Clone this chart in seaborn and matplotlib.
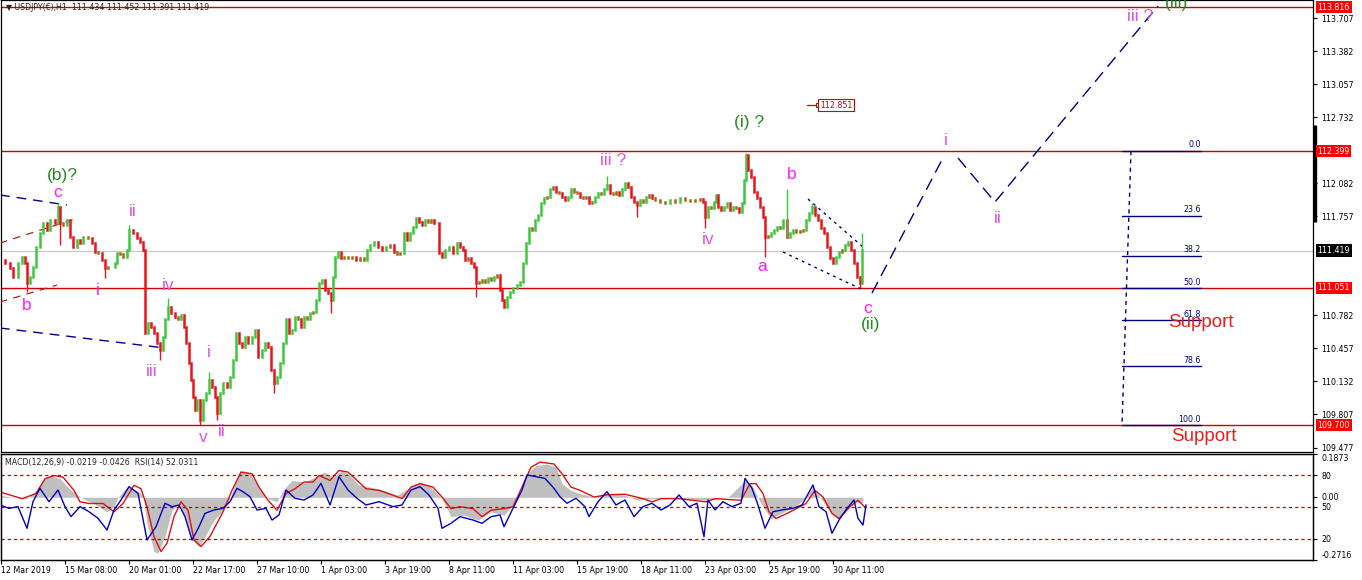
import matplotlib
matplotlib.use("Agg")
import matplotlib.pyplot as plt
import matplotlib.transforms as mtransforms
import seaborn as sns

# ---------------- data ----------------
# hourly bar index and closing prices (sampled every few bars)
bar_x = [0, 5, 10, 13, 18, 22, 25, 27, 30, 33,
         36, 40, 43, 47, 50, 55, 58, 60, 63, 67,
         70, 73, 77, 80, 83, 88, 92, 95, 98, 102,
         105, 108, 112, 115, 117, 120, 123, 127, 129, 133,
         137, 140, 143, 145, 148, 151, 154, 157, 160, 163,
         165, 168, 171, 175, 178, 181, 184, 186, 189, 191,
         193, 195, 197, 200, 203, 206, 209, 212, 215, 217,
         220, 223, 227, 230, 233, 236, 239, 242, 245, 248,
         252, 255, 258, 262, 265, 268, 271, 274, 277, 280,
         283, 286, 289, 292, 295, 298, 301, 304, 307, 310,
         313, 316, 319, 322, 325, 328, 331, 333, 335, 338,
         341, 344, 348, 352, 356, 360, 364, 367, 370, 374,
         378, 382, 386, 390, 394, 397, 400, 404, 407, 410,
         413, 416, 419, 422, 425, 428, 431, 434, 437, 439,
         442, 445, 449, 453, 457, 460, 463, 465, 468, 471,
         474, 476, 479, 482, 485, 488, 491, 494, 497, 500,
         502, 504, 507, 510, 513, 517, 520, 523, 526, 529,
         532, 535, 538, 541, 544, 547, 550, 553, 556, 559,
         562, 565, 568, 571, 574, 577, 580, 583, 586, 589,
         592, 595, 598, 601, 604, 607, 610, 613, 616, 619,
         622, 625, 628, 631, 634, 637, 640, 643, 646, 649,
         652, 655, 660, 665, 670, 675, 680, 685, 690, 695,
         700, 703, 705, 708, 711, 714, 716, 718, 721, 724,
         727, 730, 733, 736, 739, 742, 744, 746, 748, 751,
         754, 757, 760, 763, 765, 768, 771, 774, 777, 780,
         783, 787, 790, 793, 796, 800, 803, 806, 809, 812,
         815, 818, 821, 824, 827, 830, 833, 836, 839, 842,
         845, 848, 851, 854, 857, 860, 862]
close = [111.33, 111.30, 111.25, 111.16, 111.30, 111.36, 111.30, 111.10, 111.16, 111.26,
         111.45, 111.59, 111.69, 111.62, 111.72, 111.69, 111.85, 111.69, 111.67, 111.72,
         111.55, 111.45, 111.52, 111.49, 111.55, 111.54, 111.49, 111.40, 111.39, 111.33,
         111.25, 111.26, 111.26, 111.30, 111.39, 111.38, 111.36, 111.42, 111.62, 111.59,
         111.54, 111.50, 111.42, 110.61, 110.71, 110.67, 110.61, 110.51, 110.44, 110.57,
         110.74, 110.86, 110.80, 110.76, 110.74, 110.78, 110.67, 110.51, 110.31, 110.14,
         109.98, 109.85, 109.95, 109.75, 109.95, 110.02, 110.14, 110.08, 109.98, 109.82,
         110.02, 110.11, 110.08, 110.17, 110.34, 110.61, 110.51, 110.47, 110.57, 110.51,
         110.57, 110.64, 110.37, 110.44, 110.51, 110.47, 110.24, 110.11, 110.17, 110.31,
         110.51, 110.74, 110.61, 110.64, 110.76, 110.74, 110.67, 110.76, 110.74, 110.80,
         110.81, 110.93, 111.10, 111.13, 111.03, 111.00, 110.93, 111.16, 111.36, 111.40,
         111.35, 111.36, 111.35, 111.36, 111.33, 111.35, 111.33, 111.42, 111.47, 111.50,
         111.45, 111.42, 111.45, 111.47, 111.40, 111.38, 111.39, 111.59, 111.52, 111.59,
         111.65, 111.74, 111.70, 111.67, 111.72, 111.70, 111.72, 111.69, 111.69, 111.39,
         111.36, 111.42, 111.45, 111.39, 111.49, 111.45, 111.42, 111.33, 111.35, 111.30,
         111.26, 111.10, 111.11, 111.13, 111.11, 111.15, 111.13, 111.16, 111.18, 111.03,
         110.93, 110.86, 110.96, 111.01, 111.05, 111.08, 111.11, 111.30, 111.49, 111.64,
         111.62, 111.72, 111.77, 111.89, 111.94, 111.95, 112.02, 112.04, 112.00, 111.99,
         111.95, 111.92, 111.95, 112.02, 112.00, 111.99, 111.95, 111.94, 111.95, 111.89,
         111.90, 111.95, 111.99, 111.98, 112.02, 112.06, 111.99, 111.98, 112.00, 111.97,
         112.02, 112.08, 112.04, 111.95, 111.90, 111.87, 111.92, 111.90, 111.95, 111.97,
         111.94, 111.92, 111.90, 111.89, 111.92, 111.90, 111.94, 111.92, 111.91, 111.92,
         111.93, 111.90, 111.75, 111.85, 111.84, 111.90, 111.97, 111.85, 111.82, 111.85,
         111.89, 111.82, 111.85, 111.84, 111.80, 111.89, 112.11, 112.36, 112.21, 112.14,
         112.00, 111.94, 111.85, 111.75, 111.55, 111.56, 111.59, 111.62, 111.65, 111.64,
         111.72, 111.55, 111.59, 111.62, 111.60, 111.61, 111.62, 111.72, 111.79, 111.85,
         111.77, 111.72, 111.64, 111.59, 111.45, 111.35, 111.30, 111.36, 111.40, 111.42,
         111.47, 111.50, 111.42, 111.30, 111.16, 111.10, 111.42]
# visible spikes (extreme high / low of a bar)
wick_x = [27, 58, 60, 105, 129, 160, 168, 200, 209, 217, 274, 331,
          476, 607, 637, 705, 746, 765, 787, 812, 860, 862]
wick_p = [111.01, 111.89, 111.47, 111.15, 111.67, 110.34, 110.95, 109.70, 110.22, 109.75, 110.02, 110.80,
          110.96, 112.15, 111.75, 111.64, 112.38, 111.36, 112.02, 111.89, 111.05, 111.59]

# MACD(12,26,9) histogram and signal, RSI(14)
macd_x = [0, 13, 27, 36, 45, 51, 60, 71, 83, 94, 107, 114, 118, 127, 134, 143, 147, 154, 158, 165,
          172, 179, 185, 192, 199, 205, 214, 223, 230, 237, 243, 250, 259, 268, 277, 283, 292, 304, 315, 324,
          333, 342, 350, 359, 371, 384, 397, 411, 420, 431, 442, 451, 464, 478, 491, 504, 513, 520, 527, 536,
          547, 556, 562, 571, 580, 594, 607, 625, 638, 652, 670, 706, 728, 745, 752, 760, 771, 784, 797, 806,
          813, 821, 830, 837, 845, 854, 863]
macd_hist = [0.009, 0.0, -0.006, 0.030, 0.087, 0.094, 0.080, 0.030, -0.006, -0.027,
             -0.063, -0.041, 0.0, 0.044, 0.037, 0.009, -0.113, -0.235, -0.242, -0.170,
             -0.056, -0.027, -0.084, -0.185, -0.213, -0.170, -0.099, -0.056, -0.006, 0.087,
             0.116, 0.102, 0.044, -0.006, -0.020, 0.030, 0.073, 0.066, 0.087, 0.109,
             0.087, 0.116, 0.094, 0.052, 0.044, 0.030, 0.009, 0.044, 0.066, 0.044,
             -0.006, -0.084, -0.077, -0.099, -0.063, -0.077, -0.034, 0.016, 0.102, 0.137,
             0.144, 0.130, 0.059, 0.030, 0.016, 0.001, 0.016, 0.009, -0.013, -0.006,
             -0.002, -0.013, 0.0, 0.073, 0.052, -0.020, -0.092, -0.063, -0.034, 0.0,
             0.044, -0.006, -0.063, -0.092, -0.063, -0.020, -0.022]
sig_x = [0, 22, 36, 45, 54, 63, 74, 80, 89, 103, 114, 123, 134, 141, 147, 154, 161, 167, 174, 181,
         188, 194, 201, 210, 223, 232, 241, 252, 259, 268, 277, 286, 295, 304, 313, 319, 330, 339, 348, 357,
         366, 379, 393, 402, 411, 420, 433, 442, 451, 460, 473, 482, 491, 504, 513, 522, 531, 540, 554, 562,
         571, 580, 594, 607, 625, 643, 652, 661, 679, 706, 715, 741, 750, 756, 763, 769, 776, 787, 800, 806,
         815, 823, 832, 839, 850, 858, 865]
macd_signal = [0.023, -0.006, 0.016, 0.080, 0.094, 0.087, 0.030, -0.020, -0.027, -0.027,
               -0.063, -0.027, 0.052, 0.037, -0.041, -0.170, -0.235, -0.199, -0.084, -0.020,
               -0.056, -0.185, -0.213, -0.170, -0.063, 0.030, 0.109, 0.102, 0.044, -0.013,
               -0.056, 0.016, 0.037, 0.066, 0.066, 0.094, 0.073, 0.116, 0.109, 0.073,
               0.037, 0.030, 0.009, -0.006, 0.044, 0.059, 0.044, 0.001, -0.049, -0.041,
               -0.049, -0.084, -0.056, -0.049, -0.041, 0.044, 0.130, 0.152, 0.144, 0.102,
               0.044, 0.030, 0.001, 0.011, 0.013, -0.006, -0.020, -0.006, -0.006, -0.020,
               -0.006, -0.013, 0.059, 0.059, 0.016, -0.063, -0.092, -0.070, -0.041, -0.027,
               0.030, 0.001, -0.070, -0.092, -0.041, -0.013, -0.043]
rsi_x = [0, 9, 18, 27, 33, 40, 49, 58, 65, 71, 80, 89, 98, 107, 114, 121, 129, 138, 147, 156,
         165, 172, 179, 185, 192, 199, 205, 214, 223, 230, 237, 243, 250, 257, 266, 272, 279, 286, 295, 304,
         313, 321, 330, 339, 348, 357, 366, 379, 393, 402, 411, 420, 429, 438, 442, 451, 460, 473, 482, 491,
         500, 504, 513, 522, 527, 536, 545, 554, 560, 567, 576, 585, 589, 598, 607, 616, 625, 634, 643, 652,
         661, 670, 679, 689, 697, 704, 708, 715, 723, 732, 741, 745, 752, 758, 765, 773, 782, 793, 802, 813,
         819, 826, 832, 839, 847, 854, 858, 863, 866]
rsi = [51.9, 48.7, 50.3, 29.9, 55.0, 67.6, 55.0, 66.0, 50.3, 40.9,
       50.3, 45.6, 39.3, 28.3, 47.2, 56.6, 69.2, 62.9, 18.9, 31.4,
       53.5, 50.3, 51.9, 40.9, 18.9, 31.4, 44.0, 47.2, 48.7, 55.0,
       67.6, 64.4, 59.7, 47.2, 48.7, 37.7, 42.5, 66.0, 58.2, 56.6,
       61.3, 72.3, 51.9, 78.6, 66.0, 58.2, 51.9, 55.0, 50.3, 51.9,
       66.0, 69.2, 61.3, 48.7, 29.9, 34.6, 40.9, 37.7, 34.6, 40.9,
       42.5, 31.4, 48.7, 66.0, 80.2, 78.6, 77.0, 67.6, 59.7, 53.5,
       58.2, 50.3, 40.9, 55.0, 64.4, 51.9, 56.6, 40.9, 50.3, 53.5,
       47.2, 51.9, 61.3, 50.3, 53.5, 22.0, 56.6, 47.2, 55.0, 50.3,
       53.5, 77.0, 67.6, 51.9, 29.9, 45.6, 47.2, 48.7, 51.9, 70.8,
       50.3, 45.6, 25.2, 37.7, 48.7, 56.6, 39.3, 33.0, 52.0]

time_ticks = [1, 65, 129, 193, 257, 321, 385, 449, 513, 577, 641, 705, 769, 833]
time_labels = ['12 Mar 2019', '15 Mar 08:00', '20 Mar 01:00', '22 Mar 17:00', '27 Mar 10:00',
               '1 Apr 03:00', '3 Apr 19:00', '8 Apr 11:00', '11 Apr 03:00', '15 Apr 19:00',
               '18 Apr 11:00', '23 Apr 03:00', '25 Apr 19:00', '30 Apr 11:00']
price_ticks = [113.707, 113.382, 113.057, 112.732, 112.082, 111.757,
               110.782, 110.457, 110.132, 109.807, 109.477]
key_levels = [113.816, 112.399, 111.051, 109.700]
last_price = 111.419
target_price = 112.851

# Elliott wave labels: text, bar, price, kind
waves = [('(b)?', 62, 112.153, 'major'), ('c', 58, 111.995, 'minor'), ('b', 27, 110.873, 'minor'),
         ('i', 98, 111.030, 'minor'), ('ii', 133, 111.808, 'roman'), ('iv', 168, 111.070, 'roman'),
         ('iii', 152, 110.223, 'roman'), ('v', 203, 109.573, 'roman'), ('i', 209, 110.410, 'roman'),
         ('ii', 222, 109.632, 'roman'), ('iii ?', 613, 112.301, 'roman'), ('(i) ?', 749, 112.675, 'major'),
         ('iv', 708, 111.532, 'roman'), ('a', 762, 111.257, 'minor'), ('b', 792, 112.163, 'minor'),
         ('c', 868, 110.853, 'minor'), ('(ii)', 871, 110.686, 'major'), ('i', 946, 112.507, 'roman'),
         ('ii', 998, 111.739, 'roman'), ('iii ?', 1140, 113.728, 'roman'), ('(iii)', 1176, 113.847, 'major')]

# trend lines drawn on the chart: (x0, p0, x1, p1)
blue_channel = [(0, 111.966, 67, 111.867), (0, 110.656, 165, 110.459)]
red_channel = [(0, 111.493, 75, 111.729), (0, 110.912, 57, 111.079)]
diagonal = [(808, 111.926, 863, 111.454), (783, 111.404, 863, 111.030)]
proj_a_x, proj_a_p = [872, 944], [111.000, 112.350]
proj_b_x, proj_b_p = [958, 995, 1158], [112.330, 111.897, 113.826]

fib_names = ['0.0', '23.6', '38.2', '50.0', '61.8', '78.6', '100.0']
fib_ratio = [0.0, 0.236, 0.382, 0.5, 0.618, 0.786, 1.0]
fib_top, fib_bottom = 112.399, 109.700

# ---------------- drawing ----------------
sns.set_theme(style='white')
plt.rcParams['font.family'] = ['DejaVu Sans']
plt.rcParams['axes.edgecolor'] = 'black'

W, H = 1362, 580
fig = plt.figure(figsize=(W / 100, H / 100), dpi=100)
ax = fig.add_axes([1 / W, 1 - 452 / H, 1312 / W, 452 / H])
axm = fig.add_axes([1 / W, 1 - 560 / H, 1312 / W, 106 / H])

navy = '#000080'
red_line = '#d00000'
wave_colors = {'major': '#228b22', 'minor': '#ff1aff', 'roman': '#dd55dd'}
tick_fs = 5.7
label_font = ['Liberation Sans', 'DejaVu Sans']

# price bars
opens = [close[0]] + close[:-1]
cols = []
for o, c in zip(opens, close):
    d = c - o
    cols.append('#3cc83c' if d >= 0.03 else ('#e8141c' if d <= -0.03 else '#9b6a1a'))
lo = [min(o, c) for o, c in zip(opens, close)]
hi = [max(o, c) for o, c in zip(opens, close)]
bars = ax.vlines(bar_x, lo, hi, colors=cols, linewidth=1.8, zorder=4)
bars.set_capstyle('projecting')
for wx, wp in zip(wick_x, wick_p):
    i = bar_x.index(wx)
    wc = '#e8141c' if wp < close[i] else '#3cc83c'
    ax.vlines(wx, min(wp, close[i]), max(wp, close[i]), colors=wc, linewidth=1.0, zorder=4)

# horizontal levels
for lv in key_levels:
    ax.axhline(lv, color=red_line, lw=1.0, zorder=2)
ax.axhline(last_price, color='#c8c8c8', lw=0.9, zorder=1)

# channels and projections
for x0, p0, x1, p1 in blue_channel:
    ax.plot([x0, x1], [p0, p1], color=navy, lw=1.0, ls=(0, (7, 5)), zorder=3)
for x0, p0, x1, p1 in red_channel:
    ax.plot([x0, x1], [p0, p1], color='#b02020', lw=0.9, ls=(0, (6, 5)), zorder=3)
for x0, p0, x1, p1 in diagonal:
    ax.plot([x0, x1], [p0, p1], color=navy, lw=1.0, ls=(0, (2, 3)), zorder=3)
sns.lineplot(x=proj_a_x, y=proj_a_p, ax=ax, color=navy, lw=1.0, sort=False)
sns.lineplot(x=proj_b_x, y=proj_b_p, ax=ax, color=navy, lw=1.0, sort=False)
for ln in ax.lines[-2:]:
    ln.set_linestyle((0, (9, 5)))

# fibonacci retracement
ax.plot([1131, 1122], [fib_top, fib_bottom], color=navy, lw=1.0, ls=(0, (3, 3)))
for name, r in zip(fib_names, fib_ratio):
    lvl = fib_top - r * (fib_top - fib_bottom)
    ax.plot([1122, 1201], [lvl, lvl], color=navy, lw=1.0)
    ax.text(1201, lvl + 0.015, name, color=navy, fontsize=tick_fs, ha='right', va='bottom')
ax.text(1201, 110.715, 'Support', color='#e8201c', fontsize=13.5, ha='center', va='center',
        family=label_font)
ax.text(1204, 109.583, 'Support', color='#e8201c', fontsize=13.5, ha='center', va='center',
        family=label_font)

# target marker
ax.plot([807, 818], [target_price, target_price], color=red_line, lw=0.9)
ax.plot([818], [target_price], marker='s', ms=3, mfc='white', mec=red_line, mew=0.8)
ax.text(820, target_price, f'{target_price:.3f}', color=red_line, fontsize=tick_fs, ha='left',
        va='center', bbox=dict(boxstyle='square,pad=0.2', fc='white', ec=red_line, lw=0.8))

# wave labels
for txt, x, p, kind in waves:
    ax.text(x, p, txt, color=wave_colors[kind], fontsize=12.5, ha='center', va='center',
            family=label_font, zorder=6)

ax.text(5 / 1312, 1 - 7 / 452, '\u25bc USDJPY(\u20ac),H1  111.434 111.452 111.391 111.419',
        transform=ax.transAxes, fontsize=tick_fs, ha='left', va='center', zorder=7)

ax.set_xlim(1, 1313)
ax.set_ylim(109.435, 113.886)
ax.yaxis.tick_right()
ax.set_yticks(price_ticks)
ax.set_yticklabels([f'{v:.3f}' for v in price_ticks])
ax.tick_params(axis='y', direction='out', length=3, width=0.8, pad=3, labelsize=tick_fs,
               right=True, left=False, colors='black')
ax.tick_params(axis='x', bottom=False, labelbottom=False)

trans = mtransforms.blended_transform_factory(ax.transAxes, ax.transData)
for lv in key_levels:
    ax.text(1.0035, lv, f'{lv:.3f}', transform=trans, color='white', fontsize=tick_fs, ha='left',
            va='center', clip_on=False, bbox=dict(boxstyle='square,pad=0.2', fc='#ff0000', ec='none'))
ax.text(1.0035, last_price, f'{last_price:.3f}', transform=trans, color='white', fontsize=tick_fs,
        ha='left', va='center', clip_on=False, bbox=dict(boxstyle='square,pad=0.2', fc='black', ec='none'))
ax.plot([1.0012, 1.0012], [112.654, 111.700], transform=trans, color='black', lw=2.4,
        clip_on=False, solid_capstyle='butt')

# ---------------- indicator panel ----------------
axm.fill_between(macd_x, 0, macd_hist, color='#c0c0c0', lw=0, zorder=1)
sns.lineplot(x=sig_x, y=macd_signal, ax=axm, color='#e01010', lw=1.0, zorder=3)
axm.set_xlim(1, 1313)
axm.set_ylim(-0.2716, 0.1873)
axm.set_xticks(time_ticks)
axm.set_xticklabels(time_labels, ha='left')
axm.tick_params(axis='x', direction='out', length=3, width=0.8, pad=1.5, labelsize=tick_fs,
                bottom=True, colors='black')
axm.set_xlabel('')
axm.set_ylabel('')

axr = axm.twinx()
for lv in (80, 50, 20):
    axr.axhline(lv, color='#c00000', lw=0.9, ls=(0, (2.5, 2.5)), zorder=2)
sns.lineplot(x=rsi_x, y=rsi, ax=axr, color='#0000c0', lw=1.0, zorder=4)
axr.set_ylim(0, 100)
axr.set_yticks([80, 50, 20])
axr.set_yticklabels(['80', '50', '20'])
axr.tick_params(axis='y', direction='out', length=3, width=0.8, pad=3, labelsize=tick_fs, colors='black')
axr.set_ylabel('')

# MACD scale labels also sit on the right (twinx moved them left)
axm.yaxis.tick_right()
axm.set_yticks([0.1873, 0.0, -0.2716])
axm.set_yticklabels(['0.1873', '0.00', '-0.2716'])
axm.tick_params(axis='y', direction='out', length=3, width=0.8, pad=3, labelsize=tick_fs,
                right=True, labelright=True, left=False, labelleft=False, colors='black')
tl = axm.get_yticklabels()
tl[0].set_va('top')
tl[1].set_va('center')
tl[2].set_va('bottom')

axm.text(4 / 1312, 1 - 8 / 106, 'MACD(12,26,9) -0.0219 -0.0426  RSI(14) 52.0311',
         transform=axm.transAxes, fontsize=tick_fs, ha='left', va='center')

for a in (ax, axm, axr):
    for s in a.spines.values():
        s.set_color('black')
        s.set_linewidth(0.9)
ax.set_xlabel('')
ax.set_ylabel('')

fig.savefig('out.png', dpi=100)
